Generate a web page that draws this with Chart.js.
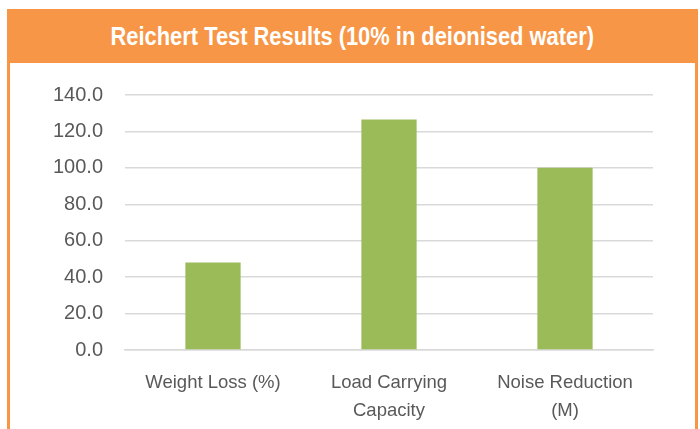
<!DOCTYPE html>
<html>
<head>
<meta charset="utf-8">
<script src="https://cdn.jsdelivr.net/npm/chart.js@4/dist/chart.umd.min.js"></script>
<style>
  body { margin: 0; background: #fff; width: 700px; height: 429px; overflow: hidden; }
  #frame {
    position: absolute; left: 7px; top: 9px; width: 685px; height: 440px;
    border-left: 3px solid #F79646; border-right: 3px solid #F79646;
  }
  #header {
    height: 54px; background: #F79646; color: #fff; text-align: center;
    font-family: "Liberation Sans", Arial, sans-serif;
    font-weight: bold; font-size: 25px; line-height: 54px;
  }
  #header span { display: inline-block; transform: scaleX(0.875); white-space: nowrap; }
  #wrap { position: absolute; left: 0; top: 52px; width: 685px; height: 368px; }
</style>
</head>
<body>
<div id="frame">
  <div id="header"><span>Reichert Test Results (10% in deionised water)</span></div>
  <div id="wrap"><canvas id="chart"></canvas></div>
</div>
<script>
// Reichert test chart
const categories = [['Weight Loss (%)'], ['Load Carrying', 'Capacity'], ['Noise Reduction', '(M)']];
const values = [48, 126.5, 100];
const yTicks = [0, 20, 40, 60, 80, 100, 120, 140];

const gridColor = '#d9d9d9';
const textColor = '#595959';

new Chart(document.getElementById('chart').getContext('2d'), {
    type: 'bar',
    data: {
        labels: categories,
        datasets: [{ data: values, backgroundColor: '#9BBB59', categoryPercentage: 1, barPercentage: 0.314 }]
    },
    options: {
        responsive: true,
        maintainAspectRatio: false,
        animation: false,
        layout: { padding: { top: 31, right: 42, left: 0, bottom: 0 } },
        plugins: { legend: { display: false }, tooltip: { enabled: false } },
        scales: {
            x: {
                grid: { display: false },
                border: { color: gridColor, width: 1.5 },
                ticks: { color: textColor, padding: 11, font: { family: 'Liberation Sans', size: 18.5, lineHeight: 1.5 }, maxRotation: 0 },
                afterFit: s => { s.height = 79; }
            },
            y: {
                min: 0, max: 140,
                afterBuildTicks: s => { s.ticks = yTicks.map(v => ({ value: v })); },
                grid: { color: gridColor, lineWidth: 1.5, drawTicks: false },
                border: { display: false },
                ticks: { color: textColor, padding: 22, font: { family: 'Liberation Sans', size: 20 }, callback: v => v.toFixed(1) },
                afterFit: s => { s.width = 115; }
            }
        }
    }
});
</script>
</body>
</html>
